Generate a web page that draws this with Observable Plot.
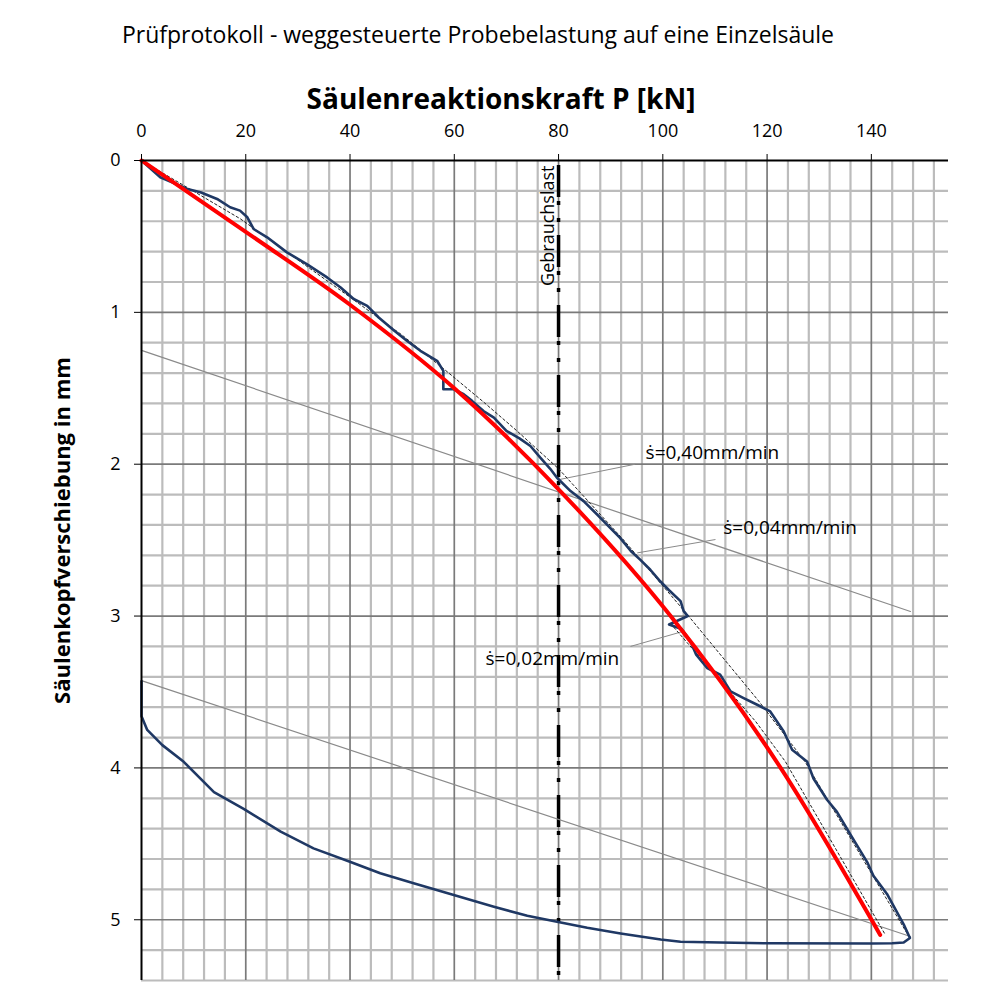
<!DOCTYPE html>
<html><head><meta charset="utf-8">
<script src="https://cdn.jsdelivr.net/npm/d3@7"></script>
<script src="https://cdn.jsdelivr.net/npm/@observablehq/plot@0.6"></script>
<style>body{margin:0;background:#fff} svg{display:block}</style>
</head><body><div id="chart"></div>
<script>
const title = "Prüfprotokoll - weggesteuerte Probebelastung auf eine Einzelsäule";
const xLabel = "Säulenreaktionskraft P [kN]";
const yLabel = "Säulenkopfverschiebung in mm";
const serviceLabel = "Gebrauchslast";
const xTicks = [0, 20, 40, 60, 80, 100, 120, 140];
const yTicks = [0, 1, 2, 3, 4, 5];
const serviceLoad = 80;

// measured curve (loading + unloading)
const measP = [0, 3.6, 8.8, 11.3, 14.5, 17.0, 18.9, 20.3, 21.5, 24.1, 27.9, 31.7, 35.6, 38.2, 40.7, 43.3, 45.5, 48.5, 50.9, 53.5, 56.7, 57.9, 57.9, 59.8, 61.8, 63.4, 65.6, 67.6, 70.0, 72.5, 74.6, 76.5, 78.4, 79.7, 82.3, 84.8, 87.4, 89.9, 91.8, 93.9, 95.7, 97.6, 99.5, 101.2, 103.4, 104.0, 104.8, 101.2, 103.6, 105.3, 106.4, 108.5, 111.0, 113.0, 115.5, 118.1, 120.6, 123.2, 124.8, 127.7, 128.9, 131.5, 133.4, 136.0, 139.2, 140.4, 143.0, 146.2, 147.4, 146.2, 144.0, 140.0, 120.0, 111.0, 103.4, 99.6, 91.9, 85.5, 79.7, 74.0, 67.6, 59.9, 52.2, 45.8, 40.1, 33.0, 26.7, 19.6, 13.9, 8.1, 4.0, 1.1, 0, 0];
const measS = [0, 0.11, 0.187, 0.209, 0.253, 0.308, 0.33, 0.374, 0.451, 0.506, 0.605, 0.682, 0.77, 0.836, 0.912, 0.957, 1.034, 1.121, 1.187, 1.253, 1.319, 1.385, 1.506, 1.506, 1.539, 1.583, 1.650, 1.693, 1.780, 1.830, 1.880, 1.957, 2.030, 2.089, 2.177, 2.243, 2.331, 2.419, 2.485, 2.573, 2.630, 2.695, 2.771, 2.830, 2.902, 2.968, 3.00, 3.056, 3.085, 3.166, 3.254, 3.342, 3.386, 3.496, 3.54, 3.584, 3.628, 3.760, 3.88, 3.96, 4.07, 4.21, 4.29, 4.44, 4.62, 4.71, 4.83, 5.03, 5.12, 5.15, 5.155, 5.156, 5.155, 5.150, 5.145, 5.130, 5.090, 5.053, 5.013, 4.974, 4.914, 4.837, 4.760, 4.694, 4.62, 4.53, 4.42, 4.27, 4.16, 3.96, 3.85, 3.75, 3.66, 3.43];

// fitted curve (red)
const fitP = [0, 20, 40, 60, 80, 101.5, 122.6, 141.7];
const fitS = [0, 0.47, 0.95, 1.50, 2.165, 3.0, 4.0, 5.1];

// dotted reference lines
const dotAP = [0, 19, 40, 50, 58.6, 65.6, 72, 80, 92.5, 104.7, 118.4, 127.3, 147.2];
const dotAS = [0, 0.385, 0.90, 1.15, 1.39, 1.59, 1.78, 2.03, 2.50, 2.99, 3.56, 3.96, 5.11];
const dotBP = [101.5, 117.8, 123.5, 142.7];
const dotBS = [3.05, 3.694, 3.958, 5.10];

// thin grey lines
const grey1P = [0, 147.5];
const grey1S = [1.25, 2.97];
const grey2P = [0, 147.5];
const grey2S = [3.425, 5.11];

// rate annotations
const rateLabels = ["ṡ=0,40mm/min", "ṡ=0,04mm/min", "ṡ=0,02mm/min"];
const rateP = [96.7, 111.6, 66.0];
const rateS = [1.926, 2.42, 3.285];
const leadFromP = [94.7, 110.1, 93.8];
const leadFromS = [2.0, 2.496, 3.20];
const leadToP = [80.3, 95.1, 104.0];
const leadToS = [2.10, 2.584, 3.10];

const zip = (a, b) => a.map((v, i) => ({x: v, y: b[i]}));
const meas = zip(measP, measS);
const fit = zip(fitP, fitS);
const dotA = zip(dotAP, dotAS);
const dotB = zip(dotBP, dotBS);
const grey1 = zip(grey1P, grey1S);
const grey2 = zip(grey2P, grey2S);
const rates = rateLabels.map((t, i) => ({t, x: rateP[i], y: rateS[i]}));
const leaders = leadFromP.map((v, i) => ({x1: v, y1: leadFromS[i], x2: leadToP[i], y2: leadToS[i]}));

const xMinor = d3.range(1, 39).map(i => i * 4).filter(v => v % 20 !== 0);
const xMajor = xTicks.filter(v => v > 0);
const yMinor = d3.range(1, 28).filter(i => i % 5 !== 0).map(i => i / 5);
const yMajor = yTicks.filter(v => v > 0);

const font = "'Open Sans', sans-serif";
const plot = Plot.plot({
  width: 1000, height: 1000,
  marginTop: 160, marginLeft: 141, marginRight: 52, marginBottom: 20,
  x: {domain: [0, 154.8]},
  y: {domain: [0, 5.4], reverse: true},
  style: {fontFamily: font, fontSize: "18px", color: "#000", background: "#fff"},
  marks: [
    Plot.ruleX(xMinor, {stroke: "#bcbcbc", strokeWidth: 2.2}),
    Plot.ruleY(yMinor, {stroke: "#bcbcbc", strokeWidth: 2.2}),
    Plot.ruleX(xMajor, {stroke: "#7a7a7a", strokeWidth: 1.7}),
    Plot.ruleY(yMajor, {stroke: "#7a7a7a", strokeWidth: 1.7}),
    Plot.ruleX([serviceLoad], {stroke: "#000", strokeWidth: 3.5, strokeDasharray: "32 4 4 13 4 13", strokeDashoffset: 65}),
    Plot.line(grey1, {x: "x", y: "y", stroke: "#8a8a8a", strokeWidth: 1.2}),
    Plot.line(grey2, {x: "x", y: "y", stroke: "#8a8a8a", strokeWidth: 1.2}),
    Plot.link(leaders, {x1: "x1", y1: "y1", x2: "x2", y2: "y2", stroke: "#8a8a8a", strokeWidth: 1}),
    Plot.line(dotA, {x: "x", y: "y", stroke: "#222", strokeWidth: 1, strokeDasharray: "2.5 2.5"}),
    Plot.line(dotB, {x: "x", y: "y", stroke: "#222", strokeWidth: 1, strokeDasharray: "2.5 2.5"}),
    Plot.line(meas, {x: "x", y: "y", stroke: "#1f3864", strokeWidth: 2.6}),
    Plot.line(fit, {x: "x", y: "y", stroke: "#ff0000", strokeWidth: 4, curve: "monotone-x"}),
    Plot.ruleY([0], {stroke: "#000", strokeWidth: 2}),
    Plot.ruleX([0], {stroke: "#000", strokeWidth: 2}),
    Plot.axisX({ticks: xTicks, anchor: "top", tickSize: 7, tickPadding: 17, label: null, fontSize: 18, stroke: "#000", tickFormat: d3.format("d")}),
    Plot.axisY({ticks: yTicks, anchor: "left", tickSize: 7, tickPadding: 14, label: null, fontSize: 18, stroke: "#000", tickFormat: d3.format("d")}),
    Plot.text([serviceLabel], {x: [serviceLoad], frameAnchor: "top", text: d => d, rotate: -90, textAnchor: "end", lineAnchor: "bottom", dx: -5, dy: 5, fontSize: 18}),
    Plot.text(rates, {x: "x", y: "y", text: "t", textAnchor: "start", lineAnchor: "middle", fontSize: 19}),
    Plot.text([title], {text: d => d, frameAnchor: "top", textAnchor: "middle", lineAnchor: "middle", dx: -67, dy: -125, fontSize: 23}),
    Plot.text([xLabel], {text: d => d, frameAnchor: "top", textAnchor: "middle", lineAnchor: "middle", dx: -44, dy: -60, fontSize: 28, fontWeight: "bold"}),
    Plot.text([yLabel], {text: d => d, frameAnchor: "left", textAnchor: "middle", lineAnchor: "middle", dx: -79, dy: -40, rotate: -90, fontSize: 22, fontWeight: "bold"})
  ]
});
document.getElementById("chart").appendChild(plot);
</script>
</body></html>
